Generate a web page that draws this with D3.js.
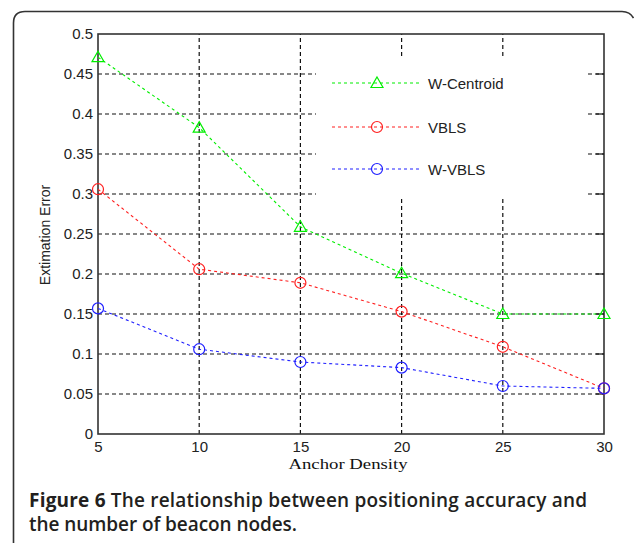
<!DOCTYPE html>
<html><head><meta charset="utf-8">
<script src="https://cdn.jsdelivr.net/npm/d3@7"></script>
<style>body{margin:0;background:#fff}svg{display:block}</style>
</head><body>
<script>
const xValues = [5, 10, 15, 20, 25, 30];
const wCentroid = [0.471, 0.383, 0.259, 0.201, 0.150, 0.150];
const vbls = [0.306, 0.206, 0.189, 0.153, 0.109, 0.057];
const wVbls = [0.157, 0.106, 0.090, 0.083, 0.060, 0.057];
const xTicks = [5, 10, 15, 20, 25, 30];
const yTicks = [0, 0.05, 0.1, 0.15, 0.2, 0.25, 0.3, 0.35, 0.4, 0.45, 0.5];
const seriesNames = ["W-Centroid", "VBLS", "W-VBLS"];
const seriesColors = ["#00ee00", "#ff2020", "#2020ff"];
const seriesMarkers = ["triangle", "circle", "circle"];

const W = 634, H = 543;
const svg = d3.select("body").append("svg").attr("width", W).attr("height", H);

// outer frame
svg.append("path")
  .attr("d", "M13.5,543 L13.5,23 Q13.5,11.5 25,11.5 L622,11.5 Q630,11.5 633.5,18")
  .attr("fill", "none").attr("stroke", "#333").attr("stroke-width", 1.6);

const x = d3.scaleLinear().domain([5, 30]).range([98, 604]);
const y = d3.scaleLinear().domain([0, 0.5]).range([434, 34]);

const g = svg.append("g");
const dash = "4,3";
// grid
g.selectAll(".vg").data(xTicks.slice(1, -1)).join("line")
  .attr("x1", d => x(d)).attr("x2", d => x(d)).attr("y1", y(0)).attr("y2", y(0.5))
  .attr("stroke", "#111").attr("stroke-dasharray", dash).attr("stroke-width", 1.2);
g.selectAll(".hg").data(yTicks.slice(1, -1)).join("line")
  .attr("x1", x(5)).attr("x2", x(30)).attr("y1", d => y(d)).attr("y2", d => y(d))
  .attr("stroke", "#111").attr("stroke-dasharray", dash).attr("stroke-width", 1.2);

// axes box
g.append("rect").attr("x", x(5)).attr("y", y(0.5)).attr("width", x(30) - x(5)).attr("height", y(0) - y(0.5))
  .attr("fill", "none").attr("stroke", "#333").attr("stroke-width", 1.6);

// axes via d3
const xAxis = d3.axisBottom(x).tickValues(xTicks).tickSize(0).tickPadding(7).tickFormat(d3.format("d"));
const ax = svg.append("g").attr("transform", `translate(0,${y(0)})`).call(xAxis);
ax.select(".domain").remove();
ax.selectAll("text").attr("font-family", "Liberation Sans, Arial, sans-serif").attr("font-size", 15).attr("fill", "#222");

const yAxis = d3.axisLeft(y).tickValues(yTicks).tickSize(0).tickPadding(5).tickFormat(d => d3.format("")(+d.toFixed(2)));
const ay = svg.append("g").attr("transform", `translate(${x(5)},0)`).call(yAxis);
ay.select(".domain").remove();
ay.selectAll("text").attr("font-family", "Liberation Sans, Arial, sans-serif").attr("font-size", 15).attr("fill", "#222");

// legend background
const lg = svg.append("g");
lg.append("rect").attr("x", 316).attr("y", 57).attr("width", 270).attr("height", 141).attr("fill", "#fff");
svg.selectAll(".rt").data(yTicks.slice(1, -1)).join("line")
  .attr("x1", x(30) - 8).attr("x2", x(30)).attr("y1", d => y(d)).attr("y2", d => y(d))
  .attr("stroke", "#111").attr("stroke-width", 1.2);

const allSeries = [wCentroid, vbls, wVbls];
const line = d3.line().x((d, i) => x(xValues[i])).y(d => y(d));

function marker(sel, type, color) {
  if (type === "triangle") {
    sel.append("path").attr("d", "M0,-6 L6,4.5 L-6,4.5 Z")
      .attr("fill", "none").attr("stroke", color).attr("stroke-width", 1.2);
  } else {
    sel.append("circle").attr("r", 5.5).attr("fill", "none").attr("stroke", color).attr("stroke-width", 1.2);
  }
}

allSeries.forEach((vals, si) => {
  const c = seriesColors[si];
  svg.append("path").datum(vals).attr("d", line).attr("fill", "none")
    .attr("stroke", c).attr("stroke-width", 1.1).attr("stroke-dasharray", "3,3");
  vals.forEach((v, i) => {
    const m = svg.append("g").attr("transform", `translate(${x(xValues[i])},${y(v)})`);
    marker(m, seriesMarkers[si], c);
  });
  const ly = [83, 127, 169][si];
  svg.append("line").attr("x1", 332).attr("x2", 419).attr("y1", ly).attr("y2", ly)
    .attr("stroke", c).attr("stroke-width", 1.1).attr("stroke-dasharray", "3,3");
  const lm = svg.append("g").attr("transform", `translate(377,${ly})`);
  marker(lm, seriesMarkers[si], c);
  svg.append("text").attr("x", 428).attr("y", ly + 5.5).text(seriesNames[si])
    .attr("font-family", "Liberation Sans, Arial, sans-serif").attr("font-size", 15).attr("fill", "#222");
});

// axis titles
svg.append("text").attr("transform", "translate(348,469) scale(1.25,1)").attr("text-anchor", "middle")
  .attr("font-family", "Liberation Serif, Times New Roman, serif").attr("font-size", 15).attr("fill", "#111")
  .text("Anchor Density");
svg.append("text").attr("transform", "translate(50,235) rotate(-90)").attr("text-anchor", "middle")
  .attr("font-family", "Liberation Sans, Arial, sans-serif").attr("font-size", 14).attr("fill", "#222")
  .text("Extimation Error");

// caption
const cap = svg.append("text").attr("x", 29).attr("y", 507)
  .attr("font-family", "Open Sans, sans-serif").attr("font-size", 19).attr("fill", "#231f20")
  .attr("textLength", 558).attr("lengthAdjust", "spacing");
cap.append("tspan").attr("font-weight", 700).text("Figure 6");
cap.append("tspan").attr("font-weight", 600).text(" The relationship between positioning accuracy and");
svg.append("text").attr("x", 29).attr("y", 531)
  .attr("font-family", "Open Sans, sans-serif").attr("font-size", 19).attr("font-weight", 600).attr("fill", "#231f20")
  .attr("textLength", 268).attr("lengthAdjust", "spacing")
  .text("the number of beacon nodes.");
</script>
</body></html>
